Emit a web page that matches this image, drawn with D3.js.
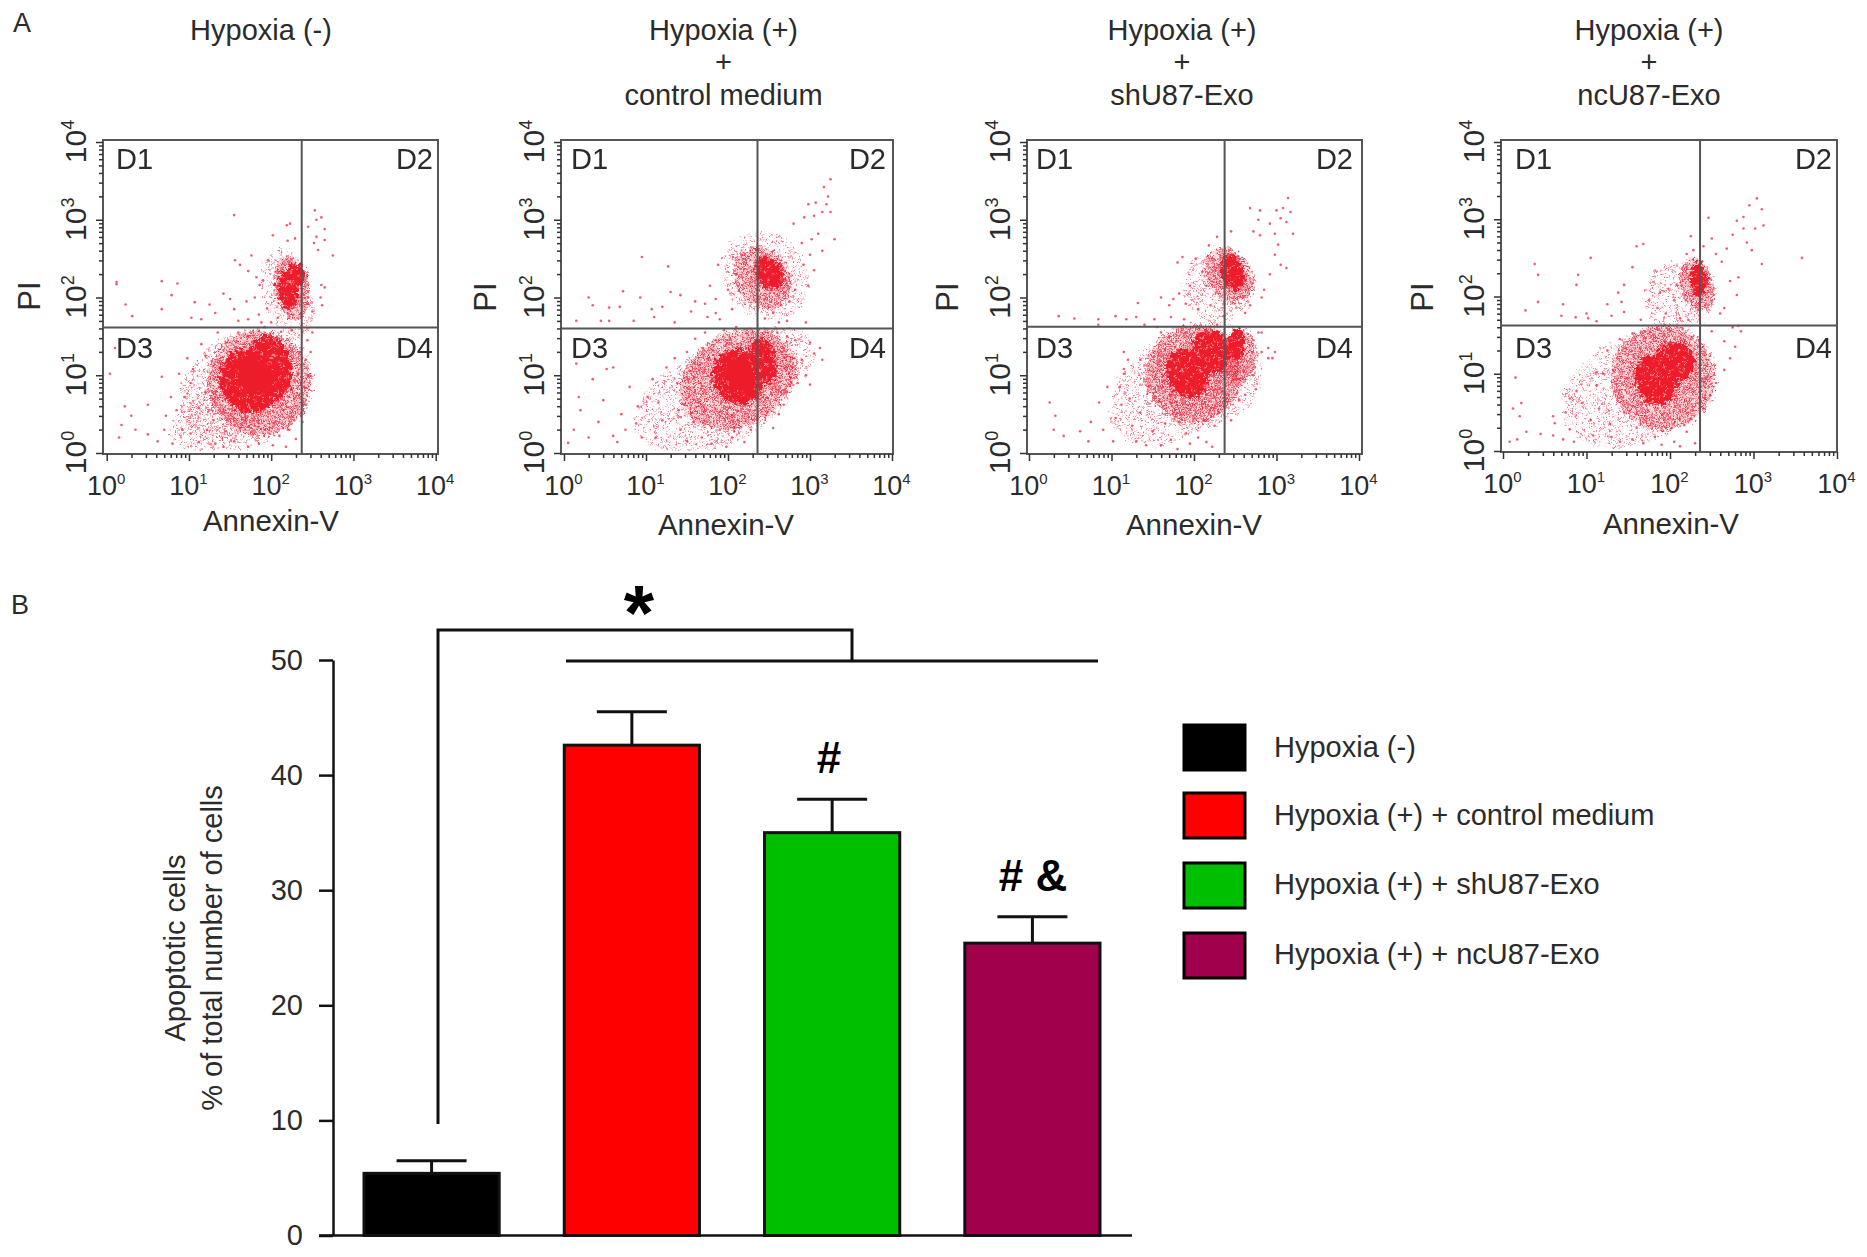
<!DOCTYPE html>
<html><head><meta charset="utf-8">
<script src="https://cdn.jsdelivr.net/npm/d3@7"></script>
<style>html,body{margin:0;background:#fff}svg{display:block}text{font-family:"Liberation Sans",Arial,sans-serif;fill:#2b2b2b}</style>
</head><body><svg id="c" width="1867" height="1257"></svg>
<script>
const decades=[1,10,100,1000,10000];
const panelTitles=[["Hypoxia (-)"],["Hypoxia (+)","+","control medium"],["Hypoxia (+)","+","shU87-Exo"],["Hypoxia (+)","+","ncU87-Exo"]];
const quadrantNames=["D1","D2","D3","D4"];
const gateAnnexin=[235,229,235,229];
const gatePI=[41,40,42,42];
// The crowded populations cannot be read dot by dot, so they are summarised as density regions read off each plot:
// log10 x, log10 y, radius x, radius y (decades), tilt, density level 1-4. Their speckle is a texture, not data.
const clusters1=[[1.7,.82,.85,.72,-30,1],[1.35,.45,.6,.38,-25,1],[1.85,.9,.62,.68,-25,2],[1.72,.92,.34,.42,-30,3],[1.98,1.1,.27,.42,-10,3],[1.8,1.0,.2,.26,-30,4],[2.2,2.05,.3,.6,-15,1],[2.25,2.12,.2,.42,-12,2],[2.2,2.1,.12,.26,-8,3],[2.3,2.3,.12,.14,-10,3]];
const clusters2=[[1.85,.72,1.05,.62,-25,1],[2.6,1.2,.45,.42,-30,1],[2.12,.95,.75,.6,-30,2],[2.12,.98,.3,.36,-25,3],[2.42,1.18,.17,.3,-10,3],[2.15,1.0,.18,.24,-20,4],[2.45,2.28,.5,.6,-35,1],[2.42,2.25,.33,.42,-35,2],[2.5,2.32,.17,.22,-30,3]];
const clusters3=[[1.75,.82,.85,.62,-35,1],[2.15,1.0,.7,.65,-30,1],[2.0,1.03,.6,.62,-30,2],[2.55,1.25,.2,.35,0,2],[1.92,1.03,.25,.33,-25,3],[2.2,1.3,.23,.28,-15,3],[2.52,1.4,.1,.2,0,3],[2.3,2.15,.45,.45,-35,1],[2.42,2.28,.27,.38,-30,2],[2.47,2.32,.14,.24,-20,3]];
const clusters4=[[1.6,.8,.95,.68,-25,1],[1.92,.95,.62,.68,-20,2],[1.83,.92,.25,.33,-20,3],[2.05,1.15,.25,.26,-10,3],[2.1,2.0,.42,.45,-30,1],[2.32,2.15,.2,.35,-15,2],[2.34,2.22,.1,.22,-5,3]];
// individual events: log10 Annexin-V, log10 PI
const events1=[[.12,2.2],[.12,2.17],[.67,2.21],[.86,2.18],[.79,2.03],[.23,1.91],[1.07,1.94],[1.25,1.91],[.67,1.85],[.31,1.76],[1.03,1.74],[1.15,1.72],[1.32,1.8],[1.55,3.06],[2.53,3.12],[2.61,3.03],[2.55,3.0],[2.65,2.88],[2.19,2.93],[2.23,2.95],[2.45,2.91],[2.55,2.78],[2.65,2.74],[2.52,2.7],[2.57,2.61],[2.75,2.54],[2.02,2.8],[2.2,2.73],[2.29,2.76],[1.96,2.48],[1.76,2.54],[1.56,2.48],[2.65,2.13],[2.61,2.16],[1.62,2.42],[1.72,2.34],[1.82,2.26],[1.9,2.22],[1.86,2.16],[1.8,2.0],[1.7,1.95],[1.55,1.85],[1.5,1.98],[1.42,2.05],[1.6,1.7],[1.72,1.72],[1.85,1.78],[1.88,1.68],[1.95,1.86],[1.92,1.62],[2.0,1.68],[2.08,1.74],[2.62,1.9],[2.5,1.82],[2.45,2.0],[2.6,2.0],[.04,1.02],[.1,1.35],[.5,.62],[.22,.6],[.3,.48],[.18,.36],[.35,.3],[.15,.2],[.5,.24],[.62,.15],[.7,.3],[.8,.12],[.72,.48],[.85,.55],[.92,.3],[.78,.72],[.67,.98],[.95,.72],[1.02,.9],[.88,1.02],[.98,1.22],[1.05,1.08],[1.15,1.4],[1.2,1.25],[1.12,.58],[1.02,.25],[1.12,.14],[1.22,.3],[1.32,.12],[1.3,.42],[1.42,.08],[1.45,.28],[1.55,.15],[1.62,.32],[1.72,.08],[1.78,.24],[1.85,.12],[1.92,.3],[2.02,.1],[2.1,.22],[2.18,.08],[2.22,.3],[2.3,.18],[2.28,.42],[2.38,.4],[2.42,.62],[2.4,.85],[2.45,1.0],[2.42,1.2],[2.48,1.3],[2.44,1.45],[2.5,1.55],[2.38,1.56],[2.25,1.58],[2.12,1.56],[1.98,1.52],[1.85,1.57],[1.72,1.5],[1.6,1.55],[1.45,1.42],[1.35,1.55],[1.28,1.18],[1.3,.95],[1.2,.78],[1.32,.72],[1.42,.56],[1.55,.45],[1.68,.42],[1.85,.38],[2.05,.4],[2.15,.55],[2.28,.7],[2.33,1.02],[2.35,1.3]];
const events2=[[.95,2.52],[1.27,2.4],[1.88,2.42],[.3,2.0],[.35,1.9],[.72,2.08],[.93,2.0],[.55,1.87],[.68,1.88],[1.3,2.07],[1.07,1.85],[1.2,1.88],[1.42,2.03],[.15,1.7],[.45,1.7],[.55,1.7],[.85,1.7],[1.35,1.68],[1.1,1.75],[1.6,1.95],[1.55,1.82],[1.72,1.92],[1.78,2.15],[1.85,1.98],[1.75,1.75],[1.85,1.8],[1.9,1.72],[2.05,1.85],[2.0,2.1],[2.1,2.3],[2.17,2.55],[2.06,2.52],[2.9,2.7],[2.8,2.95],[3.02,2.75],[3.0,2.55],[3.1,2.82],[2.93,3.03],[2.98,3.2],[3.05,3.05],[3.15,3.1],[3.2,3.2],[3.17,3.42],[3.25,3.52],[3.22,3.3],[3.07,3.22],[3.25,3.1],[3.3,2.75],[3.15,2.6],[3.05,2.35],[2.92,2.42],[2.98,2.15],[2.82,2.1],[2.75,1.95],[2.65,1.9],[2.55,1.8],[2.72,1.7],[2.62,1.68],[2.95,1.68],[2.45,1.73],[.15,1.15],[.52,1.08],[.6,1.1],[.35,.95],[.18,.72],[.2,.55],[.48,.68],[.42,.4],[.12,.3],[.05,.13],[.3,.2],[.6,.22],[.65,.14],[.75,.3],[.7,.5],[.8,.85],[.9,.6],[.88,.38],[.95,.2],[1.02,.72],[1.08,.95],[1.15,.65],[1.2,.42],[1.12,.2],[1.25,1.1],[1.35,1.22],[1.38,.9],[1.4,.55],[1.42,.3],[1.5,.15],[1.58,.4],[1.68,.2],[1.72,.55],[1.8,.12],[1.9,.3],[1.98,.08],[2.05,.2],[2.12,.42],[2.2,.14],[2.28,.3],[2.33,.55],[2.48,.52],[2.62,.5],[2.55,.32],[2.72,.78],[2.68,.62],[2.85,.9],[2.95,1.0],[3.0,.88],[3.05,1.28],[2.9,1.2],[3.12,1.35],[3.0,1.42],[2.82,1.45],[3.15,1.2],[1.5,1.3],[1.6,1.47],[1.72,1.55],[1.85,1.45],[1.95,1.58],[2.1,1.62],[2.3,1.55],[2.72,1.5],[2.6,1.55]];
const events3=[[.36,1.76],[.55,1.73],[.84,1.72],[.84,1.65],[1.05,1.76],[1.18,1.72],[1.3,1.75],[1.4,1.65],[1.32,1.93],[1.52,1.72],[1.55,1.62],[1.6,2.0],[1.7,1.9],[1.72,1.75],[1.75,1.98],[1.82,2.05],[1.9,1.92],[1.88,1.72],[1.95,2.15],[1.8,2.45],[1.86,2.52],[2.02,2.5],[2.1,2.33],[2.15,2.15],[2.18,2.67],[2.28,2.78],[2.45,2.85],[2.05,1.85],[2.2,1.9],[2.28,1.65],[2.36,1.76],[2.68,3.15],[2.78,3.0],[2.8,3.12],[2.72,2.85],[2.8,2.8],[2.92,2.95],[2.98,2.82],[3.05,3.02],[3.0,3.12],[3.08,3.15],[3.14,3.28],[3.17,3.1],[3.12,2.97],[3.2,2.82],[3.02,2.68],[2.98,2.55],[3.05,2.42],[3.12,2.38],[2.92,2.3],[2.85,2.1],[2.82,2.0],[2.68,1.9],[2.62,1.8],[.25,.65],[.32,.48],[.3,.3],[.42,.22],[.62,.28],[.75,.4],[.72,.15],[.9,.3],[1.02,.15],[1.05,.45],[1.12,.62],[.85,.65],[.95,.85],[1.1,.85],[1.15,1.08],[1.22,.7],[1.25,.35],[1.3,.15],[1.35,.52],[1.2,1.2],[1.35,1.2],[1.15,1.3],[1.15,1.02],[1.42,.1],[1.5,.28],[1.6,.1],[1.65,.38],[1.72,.17],[1.8,.05],[1.82,.4],[1.9,.25],[1.95,.12],[2.05,.2],[2.15,.14],[2.22,.08],[2.25,.35],[2.12,.42],[2.3,.52],[2.45,.42],[2.55,.68],[2.62,.75],[2.75,.82],[2.72,1.0],[2.82,1.3],[2.9,1.22],[2.95,1.22],[2.98,1.3],[2.9,1.35],[2.82,1.55],[2.72,1.45],[2.52,.95],[2.6,1.05],[1.6,1.55],[1.7,1.5],[1.85,1.6],[2.0,1.55],[2.15,1.58],[2.55,1.55],[2.78,1.55]];
const events4=[[.38,2.42],[.42,2.28],[1.05,2.5],[.9,2.28],[.88,2.15],[.72,1.9],[.42,1.93],[.27,1.82],[.7,1.75],[.87,1.73],[1.0,1.78],[1.02,1.72],[1.12,1.68],[1.25,1.9],[1.3,1.75],[1.42,1.93],[1.45,1.8],[1.38,2.05],[1.45,2.15],[1.55,2.38],[1.6,2.65],[1.68,2.68],[1.65,1.7],[1.75,1.95],[1.85,1.85],[1.88,2.05],[1.95,1.78],[1.98,2.1],[2.08,2.15],[2.05,1.95],[2.12,1.72],[2.22,1.7],[2.25,2.78],[2.28,2.6],[2.2,2.55],[2.46,3.02],[2.4,2.65],[2.5,2.75],[2.55,2.55],[2.62,2.45],[2.68,2.62],[2.75,2.8],[2.8,2.98],[2.88,3.03],[2.88,2.88],[2.92,2.7],[2.98,2.6],[3.02,2.88],[2.95,3.18],[3.04,3.27],[3.1,3.13],[3.12,2.92],[3.58,2.5],[3.1,2.42],[2.82,2.25],[2.72,2.2],[2.8,2.02],[2.65,1.85],[2.6,1.78],[2.82,1.62],[.15,.95],[.22,.62],[.12,.55],[.2,.45],[.08,.12],[.17,.15],[.28,.25],[.45,.22],[.6,.2],[.72,.15],[.8,.28],[.85,.12],[.62,.36],[.6,.45],[.75,.5],[.8,.68],[.88,.78],[.95,.62],[1.05,.4],[1.08,.2],[1.15,.55],[1.12,.85],[1.2,1.0],[1.12,1.02],[1.25,1.3],[1.32,1.05],[1.28,.35],[1.3,.18],[1.4,.12],[1.45,.5],[1.55,.15],[1.6,.3],[1.68,.1],[1.72,.42],[1.82,.18],[1.9,.08],[1.95,.3],[2.05,.12],[2.12,.06],[2.2,.25],[2.25,.42],[2.3,.1],[2.4,.55],[2.48,.72],[2.55,.88],[2.42,.95],[2.65,1.05],[2.72,1.2],[2.78,1.35],[2.85,1.55],[2.75,1.6],[2.65,1.42],[1.4,1.45],[1.55,1.52],[1.7,1.55],[1.85,1.58],[2.0,1.55],[2.15,1.58],[2.5,1.55]];
const categories=["Hypoxia (-)","Hypoxia (+) + control medium","Hypoxia (+) + shU87-Exo","Hypoxia (+) + ncU87-Exo"];
const means=[5.4,42.6,35,25.4];
const errorTops=[6.5,45.5,37.9,27.7];
const barColors=["#000000","#ff0000","#00bf00","#a0004c"];
const apoptosisTicks=[0,10,20,30,40,50];
// speckle textures (hand-placed dabs) that fill the density regions
const speckleSparse=[[3,4],[14,2],[25,7],[33,3],[8,11],[19,13],[30,15],[4,19],[13,22],[24,21],[35,23],[9,29],[18,31],[29,28],[2,33],[22,36],[34,34],[12,38]];
const speckleDense=[[2,2],[8,1],[14,4],[20,2],[5,6],[11,8],[18,7],[23,9],[2,11],[8,13],[15,12],[21,14],[5,17],[12,18],[18,17],[24,19],[1,21],[8,22],[15,23],[21,24],[4,26],[11,27],[18,28],[24,27]];
const speckleHoles=[[4,5],[15,3],[24,9],[9,14],[19,16],[3,21],[13,24],[25,23]];

const svg=d3.select("#c");
const defs=svg.append("defs");
defs.append("filter").attr("id","soft").attr("x","-5%").attr("y","-5%").attr("width","110%").attr("height","110%").append("feGaussianBlur").attr("stdDeviation",.55);
// rendering-only edge roughening of the density regions
const rough=defs.append("filter").attr("id","rough").attr("x","-10%").attr("y","-10%").attr("width","120%").attr("height","120%");
rough.append("feTurbulence").attr("type","fractalNoise").attr("baseFrequency",.3).attr("numOctaves",2).attr("seed",4).attr("result","n");
rough.append("feDisplacementMap").attr("in","SourceGraphic").attr("in2","n").attr("scale",13).attr("xChannelSelector","R").attr("yChannelSelector","G").attr("result","d");
rough.append("feGaussianBlur").attr("in","d").attr("stdDeviation",.55);
function tile(id,w,h,bg,dabs,color,r,op,scale){
  const p=defs.append("pattern").attr("id",id).attr("width",w).attr("height",h).attr("patternUnits","userSpaceOnUse").attr("patternTransform",`scale(${scale})`);
  if(bg)p.append("rect").attr("width",w).attr("height",h).attr("fill",bg);
  p.selectAll("circle").data(dabs).join("circle").attr("cx",d=>d[0]).attr("cy",d=>d[1]).attr("r",r).attr("fill",color).attr("opacity",op);
}
tile("lv1",40,40,null,speckleSparse,"#e8304a",2,.72,.62);
tile("lv2",27,30,"rgba(240,40,60,.14)",speckleDense,"#e8243c",2,.88,.74);
tile("lv3",29,28,"#ee1c2c",speckleHoles,"#f8a0a4",1.8,.85,.8);
const levelFill=[null,"url(#lv1)","url(#lv2)","url(#lv3)","#ed1c2c"];

const layouts=[
 {box:[103,438,140,454],x:[106.7,435.7],y:[453,142],d1:116,d2:433,xl:[271,521],pi:[29,296],title:261},
 {box:[561,893,140,454],x:[564,892],y:[453,142],d1:571,d2:886,xl:[726,525],pi:[485,297],title:723.5},
 {box:[1027,1362,140,454],x:[1029,1359],y:[453,142],d1:1036,d2:1353,xl:[1194,525],pi:[947,297],title:1182},
 {box:[1501,1837,140,452],x:[1503,1837],y:[451,142],d1:1515,d2:1832,xl:[1671,524],pi:[1422,297],title:1649}];
const allClusters=[clusters1,clusters2,clusters3,clusters4];
const allEvents=[events1,events2,events3,events4];
const minor=d3.range(0,4).flatMap(k=>d3.range(2,10).map(m=>m*Math.pow(10,k)));
const sups=["0","1","2","3","4"];

layouts.forEach((L,i)=>{
  const g=svg.append("g");
  const x=d3.scaleLog().domain([1,1e4]).range(L.x);
  const y=d3.scaleLog().domain([1,1e4]).range(L.y);
  const [bl,br,bt,bb]=L.box;
  defs.append("clipPath").attr("id","clip"+i).append("rect").attr("x",bl).attr("y",bt).attr("width",br-bl).attr("height",bb-bt-3);
  panelTitles[i].forEach((t,j)=>{
    const by=panelTitles[i].length===1?40:[40,72,105][j];
    g.append("text").attr("x",L.title).attr("y",by).attr("text-anchor","middle").attr("font-size",29).text(t);
  });
  const plot=g.append("g").attr("clip-path",`url(#clip${i})`);
  const sorted=allClusters[i].slice().sort((a,b)=>a[5]-b[5]);
  plot.append("g").attr("filter","url(#rough)").selectAll("ellipse").data(sorted).join("ellipse")
    .attr("fill",d=>levelFill[d[5]])
    .attr("rx",d=>x(Math.pow(10,d[2]+1))-x(10))
    .attr("ry",d=>y(10)-y(Math.pow(10,d[3]+1)))
    .attr("transform",d=>`translate(${x(Math.pow(10,d[0]))},${y(Math.pow(10,d[1]))}) rotate(${d[4]})`);
  plot.append("g").attr("filter","url(#soft)").selectAll("circle").data(allEvents[i]).join("circle")
    .attr("cx",d=>x(Math.pow(10,d[0]))).attr("cy",d=>y(Math.pow(10,d[1])))
    .attr("r",1.3).attr("fill","#e8344a").attr("opacity",.8);
  g.append("rect").attr("x",bl).attr("y",bt).attr("width",br-bl).attr("height",bb-bt).attr("fill","none").attr("stroke","#555").attr("stroke-width",2);
  g.append("line").attr("x1",x(gateAnnexin[i])).attr("x2",x(gateAnnexin[i])).attr("y1",bt).attr("y2",bb).attr("stroke","#555").attr("stroke-width",2);
  g.append("line").attr("x1",bl).attr("x2",br).attr("y1",y(gatePI[i])).attr("y2",y(gatePI[i])).attr("stroke","#555").attr("stroke-width",2);
  const byTop=169,byBot=358;
  [[L.d1,byTop,"start"],[L.d2,byTop,"end"],[L.d1,byBot,"start"],[L.d2,byBot,"end"]].forEach((p,k)=>{
    g.append("text").attr("x",p[0]).attr("y",p[1]).attr("text-anchor",p[2]).attr("font-size",29).text(quadrantNames[k]);
  });
  const styleAxis=s=>{s.selectAll(".domain").remove();s.selectAll("line").attr("stroke","#333").attr("stroke-width",1.5);};
  g.append("g").attr("transform",`translate(0,${bb})`).call(d3.axisBottom(x).tickValues(minor).tickSize(4).tickFormat("")).call(styleAxis);
  g.append("g").attr("transform",`translate(${bl},0)`).call(d3.axisLeft(y).tickValues(minor).tickSize(4).tickFormat("")).call(styleAxis);
  const ax=g.append("g").attr("transform",`translate(0,${bb})`).call(d3.axisBottom(x).tickValues(decades).tickSize(7).tickFormat("")).call(styleAxis);
  const ay=g.append("g").attr("transform",`translate(${bl},0)`).call(d3.axisLeft(y).tickValues(decades).tickSize(7).tickFormat("")).call(styleAxis);
  ax.selectAll(".tick text").each(function(d,k){
    const t=d3.select(this).attr("y",null).attr("dy",null).attr("x",0).attr("transform","translate(-1,41)").attr("font-size",27).attr("text-anchor","middle").style("fill","#2b2b2b");
    t.append("tspan").text("10");
    t.append("tspan").attr("dy",-11).attr("font-size",15).text(sups[k]);
  });
  ay.selectAll(".tick text").each(function(d,k){
    const t=d3.select(this).attr("x",null).attr("dy",null).attr("y",0).attr("transform","translate(-17,-1) rotate(-90)").attr("font-size",30).attr("text-anchor","middle").style("fill","#2b2b2b");
    t.append("tspan").text("10");
    t.append("tspan").attr("dy",-12).attr("font-size",18).text(sups[k]);
  });
  g.append("text").attr("x",L.xl[0]).attr("y",L.xl[1]+10).attr("text-anchor","middle").attr("font-size",29.5).text("Annexin-V");
  g.append("text").attr("transform",`translate(${L.pi[0]+11},${L.pi[1]}) rotate(-90)`).attr("text-anchor","middle").attr("font-size",31).text("PI");
});

svg.append("text").attr("x",13).attr("y",32).attr("font-size",27).text("A");
svg.append("text").attr("x",11).attr("y",614).attr("font-size",27).text("B");

const xb=d3.scaleBand().domain(categories).range([364,1100]).paddingInner(.325).paddingOuter(0);
const yb=d3.scaleLinear().domain([0,50]).range([1235.5,660]);
const barG=svg.append("g");
const yAxis=barG.append("g").attr("transform","translate(333,0)").call(d3.axisLeft(yb).tickValues(apoptosisTicks).tickSize(14).tickSizeOuter(0).tickPadding(16));
yAxis.selectAll("line").attr("stroke","#111").attr("stroke-width",2.5);
yAxis.select(".domain").attr("stroke","#111").attr("stroke-width",2.5);
yAxis.selectAll("text").attr("font-size",29).attr("font-family","Liberation Sans").style("fill","#2b2b2b");
barG.append("line").attr("x1",319).attr("x2",1132).attr("y1",yb(0)).attr("y2",yb(0)).attr("stroke","#111").attr("stroke-width",2.5);
barG.selectAll("line.err").data(categories).join("line").attr("class","err")
  .attr("x1",d=>xb(d)+xb.bandwidth()/2).attr("x2",d=>xb(d)+xb.bandwidth()/2)
  .attr("y1",(d,i)=>yb(errorTops[i])).attr("y2",(d,i)=>yb(means[i])).attr("stroke","#111").attr("stroke-width",3);
barG.selectAll("line.cap").data(categories).join("line").attr("class","cap")
  .attr("x1",d=>xb(d)+xb.bandwidth()/2-35).attr("x2",d=>xb(d)+xb.bandwidth()/2+35)
  .attr("y1",(d,i)=>yb(errorTops[i])).attr("y2",(d,i)=>yb(errorTops[i])).attr("stroke","#111").attr("stroke-width",3);
barG.selectAll("rect").data(categories).join("rect")
  .attr("x",d=>xb(d)).attr("width",xb.bandwidth())
  .attr("y",(d,i)=>yb(means[i])).attr("height",(d,i)=>yb(0)-yb(means[i]))
  .attr("fill",(d,i)=>barColors[i]).attr("stroke","#111").attr("stroke-width",3);
svg.append("text").attr("transform","translate(185,948) rotate(-90)").attr("text-anchor","middle").attr("font-size",29).text("Apoptotic cells");
svg.append("text").attr("transform","translate(222,948) rotate(-90)").attr("text-anchor","middle").attr("font-size",29).text("% of total number of cells");
const br=d3.path();br.moveTo(438,1124);br.lineTo(438,630);br.lineTo(852,630);br.lineTo(852,661);
svg.append("path").attr("d",br.toString()).attr("fill","none").attr("stroke","#111").attr("stroke-width",3);
svg.append("line").attr("x1",566).attr("x2",1098).attr("y1",661).attr("y2",661).attr("stroke","#111").attr("stroke-width",3);
svg.append("text").attr("x",639).attr("y",640).attr("text-anchor","middle").attr("font-size",78).attr("font-weight","bold").style("fill","#000").text("*");
svg.append("text").attr("x",829).attr("y",773).attr("text-anchor","middle").attr("font-size",44).attr("font-weight","bold").style("fill","#000").text("#");
svg.append("text").attr("x",1033).attr("y",891).attr("text-anchor","middle").attr("font-size",44).attr("font-weight","bold").style("fill","#000").text("# &");
const legendY=[725,793,863,933];
const legendTextY=[757,825,894,964];
const leg=svg.append("g").selectAll("g").data(categories).join("g");
leg.append("rect").attr("x",1184).attr("y",(d,i)=>legendY[i]).attr("width",61).attr("height",45).attr("fill",(d,i)=>barColors[i]).attr("stroke","#000").attr("stroke-width",3);
leg.append("text").attr("x",1274).attr("y",(d,i)=>legendTextY[i]).attr("font-size",29).text(d=>d);
</script></body></html>
